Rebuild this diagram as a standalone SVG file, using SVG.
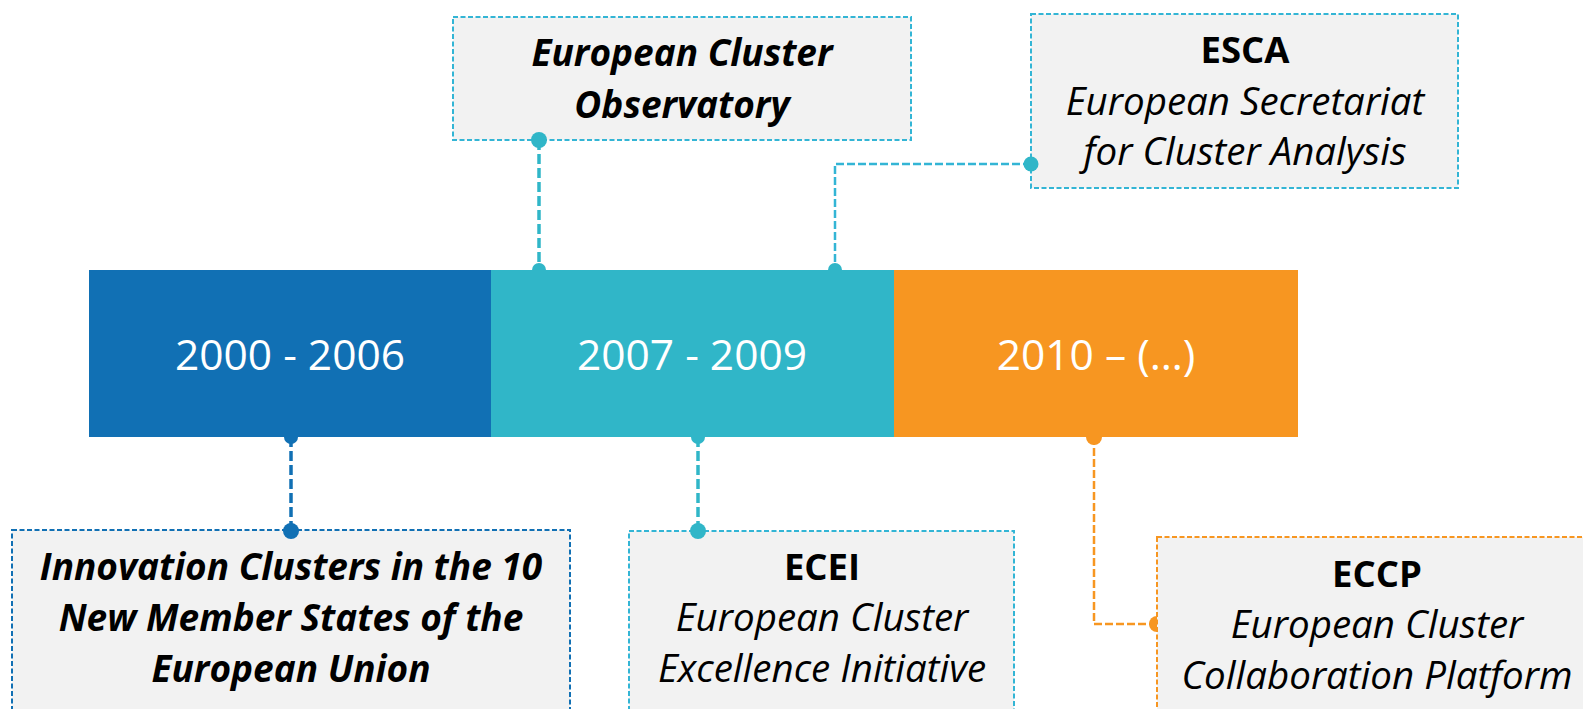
<svg xmlns="http://www.w3.org/2000/svg" width="1583" height="709" viewBox="0 0 1583 709">
<style>
.bar-t{font-family:"Open Sans","Liberation Sans",sans-serif;font-size:42.5px;fill:#ffffff;text-anchor:middle}
.box{fill:#f2f2f2;stroke-width:2;stroke-dasharray:5 2.5}
.bi{font-family:"Open Sans","Liberation Sans",sans-serif;font-size:37px;font-weight:bold;font-style:italic;fill:#000;text-anchor:middle}
.b{font-family:"Open Sans","Liberation Sans",sans-serif;font-size:36.5px;font-weight:bold;fill:#000;text-anchor:middle}
.i{font-family:"Open Sans","Liberation Sans",sans-serif;font-size:38.5px;font-style:italic;fill:#000;text-anchor:middle}
.teal{stroke:#33b5d5}
.blue{stroke:#1170b4}
.orng{stroke:#f79621}
.c-thick{fill:none;stroke-width:3.5;stroke-dasharray:10 4}
.c-thin{fill:none;stroke-width:2.5;stroke-dasharray:8 3}
</style>
<rect width="1583" height="709" fill="#ffffff"/>
<g id="bar-2000-2006">
<rect x="89" y="270" width="403" height="167" fill="#1170b4"/>
<text class="bar-t" x="290" y="370">2000 - 2006</text>
</g>
<g id="bar-2007-2009">
<rect x="491" y="270" width="404" height="167" fill="#30b6c8"/>
<text class="bar-t" x="692" y="370">2007 - 2009</text>
</g>
<g id="bar-2010">
<rect x="894" y="270" width="404" height="167" fill="#f79621"/>
<text class="bar-t" x="1096" y="370">2010 – (…)</text>
</g>
<g id="observatory">
<rect class="box teal" x="453" y="17" width="458" height="123"/>
<text class="bi" x="682" y="66">European Cluster</text>
<text class="bi" x="682" y="118">Observatory</text>
</g>
<g id="esca">
<rect class="box teal" x="1031" y="14" width="427" height="174"/>
<text class="b" x="1245" y="63">ESCA</text>
<text class="i" x="1245" y="115">European Secretariat</text>
<text class="i" x="1245" y="165">for Cluster Analysis</text>
</g>
<g id="innovation">
<rect class="box blue" x="12" y="530" width="558" height="200"/>
<text class="bi" x="291" y="580">Innovation Clusters in the 10</text>
<text class="bi" x="291" y="631">New Member States of the</text>
<text class="bi" x="291" y="682">European Union</text>
</g>
<g id="ecei">
<rect class="box teal" x="629" y="531" width="385" height="200"/>
<text class="b" x="822" y="580">ECEI</text>
<text class="i" x="822" y="631">European Cluster</text>
<text class="i" x="822" y="682">Excellence Initiative</text>
</g>
<g id="eccp">
<rect class="box orng" x="1157" y="537" width="440" height="200"/>
<text class="b" x="1377" y="587">ECCP</text>
<text class="i" x="1377" y="638">European Cluster</text>
<text class="i" x="1377" y="689">Collaboration Platform</text>
</g>
<g id="connectors">
<line class="c-thick" x1="539" y1="140" x2="539" y2="270" stroke="#30b6c8"/>
<circle cx="539" cy="140" r="8" fill="#30b6c8"/>
<path d="M532,270 A7,7 0 0 1 546,270 Z" fill="#30b6c8"/>
<polyline class="c-thin teal" points="1031,164 835,164 835,270"/>
<circle cx="1031" cy="164" r="7.5" fill="#30b6c8"/>
<path d="M828,270 A7,7 0 0 1 842,270 Z" fill="#30b6c8"/>
<line class="c-thick blue" x1="291" y1="437" x2="291" y2="530"/>
<path d="M284,437 A7,7 0 0 0 298,437 Z" fill="#1170b4"/>
<circle cx="291" cy="531" r="8" fill="#1170b4"/>
<line class="c-thick" x1="698" y1="437" x2="698" y2="531" stroke="#30b6c8"/>
<path d="M691,437 A7,7 0 0 0 705,437 Z" fill="#30b6c8"/>
<circle cx="698" cy="531" r="8" fill="#30b6c8"/>
<polyline class="c-thin orng" points="1094,437 1094,624 1157,624"/>
<path d="M1086,437 A8,8 0 0 0 1102,437 Z" fill="#f79621"/>
<path d="M1157,616 A8,8 0 0 0 1157,632 Z" fill="#f79621"/>
</g>
</svg>
